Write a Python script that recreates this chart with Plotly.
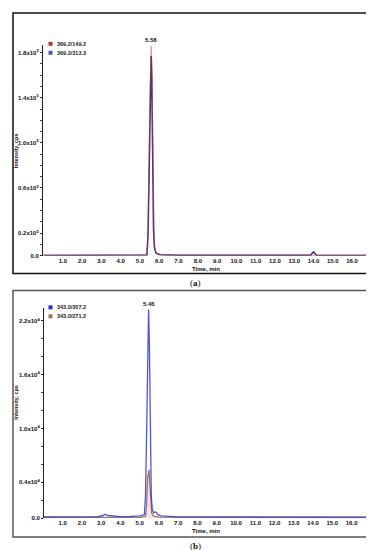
import plotly.graph_objects as go

W, H = 374, 550

# ---------------- Data ----------------
# Panel (a)
a_t_red = [0.0, 1.0, 2.0, 3.0, 4.0, 5.0, 5.34, 5.40, 5.44, 5.48, 5.52, 5.56, 5.58,
           5.61, 5.64, 5.67, 5.70, 5.74, 5.80, 5.90, 6.05, 6.30, 7.0, 8.0, 9.0, 10.0,
           11.0, 12.0, 13.0, 14.0, 15.0, 16.0, 16.93]
a_y_red = [400, 400, 450, 400, 450, 450, 700, 8000, 40000, 95000, 145000, 182000, 186000,
           170000, 120000, 70000, 30000, 10000, 4000, 2000, 1100, 700, 500, 450, 450, 400,
           400, 400, 400, 400, 400, 400, 400]
a_t_blue = [0.0, 2.0, 4.0, 5.0, 5.36, 5.42, 5.46, 5.50, 5.54, 5.57, 5.58, 5.61, 5.64,
            5.67, 5.70, 5.75, 5.82, 6.0, 7.0, 10.0, 13.0, 13.85, 13.92, 14.0, 14.08, 14.15,
            15.0, 16.93]
a_y_blue = [200, 200, 200, 250, 600, 20000, 65000, 118000, 160000, 176000, 177000, 160000, 110000,
            60000, 24000, 7000, 2500, 800, 300, 250, 250, 300, 1800, 3300, 1800, 300,
            200, 200]
a_yticks = [0, 20000, 60000, 100000, 140000, 180000]
a_yticktext = ["<b>0.0</b>", "<b>0.2x10<sup>5</sup></b>", "<b>0.6x10<sup>5</sup></b>",
               "<b>1.0x10<sup>5</sup></b>", "<b>1.4x10<sup>5</sup></b>", "<b>1.8x10<sup>5</sup></b>"]
a_peak_label = "5.58"
a_peak_t = 5.58
a_names = ["369.2/149.2", "369.2/313.3"]

# Panel (b)
b_t_blue = [0.0, 1.0, 2.0, 2.8, 3.1, 3.2, 3.35, 3.6, 4.0, 4.5, 5.0, 5.24, 5.30, 5.34, 5.38,
            5.42, 5.46, 5.50, 5.53, 5.56, 5.60, 5.65, 5.72, 5.80, 5.86, 5.95, 6.10, 7.0,
            8.0, 10.0, 12.0, 14.0, 16.0, 16.85]
b_y_blue = [150, 150, 150, 180, 300, 450, 300, 250, 180, 200, 250, 400, 2500, 7500, 14000,
            20000, 23300, 19500, 13000, 6500, 2500, 1000, 600, 700, 650, 400, 250, 150,
            150, 120, 120, 120, 120, 120]
b_t_brown = [0.0, 3.0, 5.0, 5.30, 5.36, 5.41, 5.45, 5.48, 5.52, 5.56, 5.62, 5.70, 6.0, 10.0, 16.85]
b_y_brown = [80, 80, 100, 200, 1500, 4500, 5300, 5400, 4000, 1800, 600, 250, 120, 80, 80]
b_yticks = [0, 4000, 10000, 16000, 22000]
b_yticktext = ["<b>0.0</b>", "<b>0.4x10<sup>4</sup></b>", "<b>1.0x10<sup>4</sup></b>",
               "<b>1.6x10<sup>4</sup></b>", "<b>2.2x10<sup>4</sup></b>"]
b_peak_label = "5.46"
b_peak_t = 5.46
b_names = ["343.0/307.2", "343.0/271.2"]

x_tickvals = [1, 2, 3, 4, 5, 6, 7, 8, 9, 10, 11, 12, 13, 14, 15, 16]
x_ticktext = ["<b>%.1f</b>" % v for v in x_tickvals]

# ---------------- Styling ----------------
FONT = "Liberation Sans, Arial, sans-serif"
a_red = "#a4401e"
a_blue = "#4658c0"
a_peak_purple = "#4b2a8c"
b_blue = "#2727e0"
b_brown = "#9a7a58"

def px_x(p):
    return p / W

def px_y(p):
    return 1 - p / H

fig = go.Figure()

fig.add_trace(go.Scatter(x=a_t_blue, y=a_y_blue, mode="lines", line=dict(color=a_peak_purple, width=1.5),
                         xaxis="x", yaxis="y", showlegend=False))
fig.add_trace(go.Scatter(x=a_t_red, y=a_y_red, mode="lines", line=dict(color=a_red, width=1.2),
                         opacity=0.5, xaxis="x", yaxis="y", showlegend=False))
fig.add_trace(go.Scatter(x=b_t_brown, y=b_y_brown, mode="lines", line=dict(color=b_brown, width=1.3),
                         fill="tozeroy", fillcolor="rgba(235,190,200,0.45)",
                         xaxis="x2", yaxis="y2", showlegend=False))
fig.add_trace(go.Scatter(x=b_t_blue, y=b_y_blue, mode="lines", line=dict(color=b_blue, width=1.3),
                         opacity=0.8, xaxis="x2", yaxis="y2", showlegend=False))

tickfont = dict(family=FONT, size=6, color="#111")

def xaxis_cfg(domain, rng, anchor):
    return dict(domain=domain, range=rng, anchor=anchor, tickvals=x_tickvals, ticktext=x_ticktext,
                tickfont=tickfont, showgrid=False, zeroline=False, showline=False,
                ticks="", fixedrange=True)

def yaxis_cfg(domain, rng, anchor, tv, tt, minor_d):
    return dict(domain=domain, range=rng, anchor=anchor, tickvals=tv, ticktext=tt,
                tickfont=tickfont, showgrid=False, zeroline=False, showline=True,
                linecolor="#222", linewidth=1, ticks="outside", ticklen=2, tickwidth=0.8,
                tickcolor="#222",
                minor=dict(dtick=minor_d, ticks="outside", ticklen=2, tickcolor="#444", tickwidth=0.6),
                fixedrange=True)

fig.update_layout(
    width=W, height=H, margin=dict(l=0, r=0, t=0, b=0),
    paper_bgcolor="white", plot_bgcolor="white",
    xaxis=xaxis_cfg([px_x(35), px_x(362)], [-0.03, 16.93], "y"),
    yaxis=yaxis_cfg([px_y(249), px_y(37)], [0, 187000], "x", a_yticks, a_yticktext, 10000),
    xaxis2=xaxis_cfg([px_x(36), px_x(360)], [0.03, 16.85], "y2"),
    yaxis2=yaxis_cfg([px_y(513), px_y(302)], [0, 23400], "x2", b_yticks, b_yticktext, 2000),
)

shapes = []
ann = []
# outer boxes
shapes.append(dict(type="rect", xref="paper", yref="paper", x0=px_x(5), x1=px_x(368),
                   y0=px_y(267), y1=px_y(5), line=dict(color="#111", width=1.5)))
shapes.append(dict(type="rect", xref="paper", yref="paper", x0=px_x(5), x1=px_x(366),
                   y0=px_y(532), y1=px_y(284), line=dict(color="#555", width=1.5)))

# legends
def legend(ypos, names, colors):
    for i, (n, c) in enumerate(zip(names, colors)):
        yc = ypos + i * 9
        shapes.append(dict(type="rect", xref="paper", yref="paper",
                           x0=px_x(40.5), x1=px_x(44.5), y0=px_y(yc + 2), y1=px_y(yc - 2),
                           fillcolor=c, line=dict(width=0)))
        ann.append(dict(xref="paper", yref="paper", x=px_x(47), y=px_y(yc), text="<b>%s</b>" % n,
                        showarrow=False, xanchor="left", yanchor="middle",
                        font=dict(family=FONT, size=5.5, color="#222")))

legend(36, a_names, [a_red, a_blue])
legend(301, b_names, [b_blue, b_brown])

# peak labels
ann.append(dict(xref="x", yref="paper", x=a_peak_t, y=px_y(32), text="<b>%s</b>" % a_peak_label,
                showarrow=False, xanchor="center", yanchor="middle",
                font=dict(family=FONT, size=6, color="#111")))
ann.append(dict(xref="x2", yref="paper", x=b_peak_t, y=px_y(298), text="<b>%s</b>" % b_peak_label,
                showarrow=False, xanchor="center", yanchor="middle",
                font=dict(family=FONT, size=6, color="#111")))

# axis titles
for yc, xc in [(144, 8), (397, 8)]:
    ann.append(dict(xref="paper", yref="paper", x=px_x(xc), y=px_y(yc), text="<b>Intensity, cps</b>",
                    textangle=-90, showarrow=False, xanchor="center", yanchor="middle",
                    font=dict(family=FONT, size=5.5, color="#111")))
for yc in [262, 526]:
    ann.append(dict(xref="paper", yref="paper", x=px_x(198), y=px_y(yc), text="<b>Time, min</b>",
                    showarrow=False, xanchor="center", yanchor="middle",
                    font=dict(family=FONT, size=6, color="#111")))

# captions
ann.append(dict(xref="paper", yref="paper", x=0.5, y=px_y(277), text="(<b>a</b>)", showarrow=False,
                xanchor="center", yanchor="middle",
                font=dict(family="Liberation Serif, Times New Roman, serif", size=9, color="#111")))
ann.append(dict(xref="paper", yref="paper", x=0.5, y=px_y(541), text="(<b>b</b>)", showarrow=False,
                xanchor="center", yanchor="middle",
                font=dict(family="Liberation Serif, Times New Roman, serif", size=9, color="#111")))

fig.update_layout(shapes=shapes, annotations=ann)
fig.write_html("out.html")
